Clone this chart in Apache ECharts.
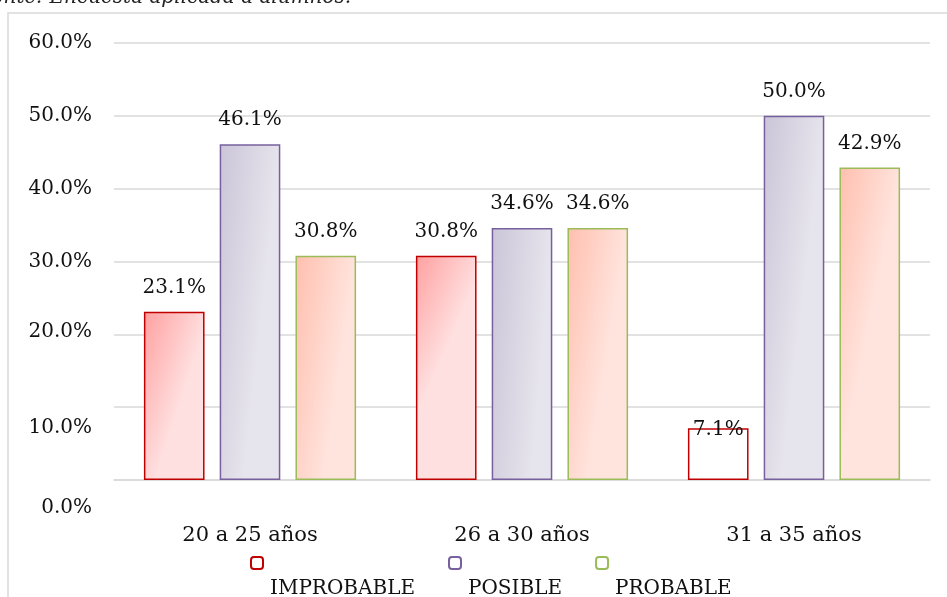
<!DOCTYPE html>
<html>
<head>
<meta charset="utf-8">
<script src="https://cdn.jsdelivr.net/npm/echarts@6/dist/echarts.min.js"></script>
<style>
	html, body { margin: 0; padding: 0; background: #fff; }
	#main { width: 947px; height: 597px; }
</style>
</head>
<body>
<div id="main"></div>
<script>
var categories = ['20 a 25 años', '26 a 30 años', '31 a 35 años'];
var improbable = [23.1, 30.8, 7.1];
var posible = [46.1, 34.6, 50.0];
var probable = [30.8, 34.6, 42.9];
var yTicks = [0, 10, 20, 30, 40, 50, 60];

var serif = 'DejaVu Serif';

// degradado casi horizontal, mas oscuro a la izquierda
function grad(c1, c2, dy) {
	return new echarts.graphic.LinearGradient(0, 0, 1, dy, [
		{ offset: 0, color: c1 },
		{ offset: 1, color: c2 }
	]);
}

function labelCfg() {
	return {
		show: true,
		position: 'top',
		distance: 14,
		fontFamily: serif,
		fontSize: 20,
		color: '#111',
		formatter: function(p) { return p.value.toFixed(1) + '%'; }
	};
}

// el ultimo valor de IMPROBABLE va sin relleno y con la etiqueta encima del borde
var improbableData = improbable.map(function(v, i) {
	if(i === 2) {
		return {
			value: v,
			itemStyle: { color: '#fff' },
			label: { distance: -12 }
		};
	}
	return v;
});

var series = [{
	name: 'IMPROBABLE',
	data: improbableData,
	color: grad('#ffa0a0', '#ffe0e0', 0.12),
	borderColor: '#c00000'
}, {
	name: 'POSIBLE',
	data: posible,
	color: grad('#cbc5d8', '#e6e4ec', 0.02),
	borderColor: '#76619e'
}, {
	name: 'PROBABLE',
	data: probable,
	color: grad('#ffbfae', '#ffe4de', 0.04),
	borderColor: '#9bbb59'
}].map(function(s) {
	return {
		type: 'bar',
		name: s.name,
		data: s.data,
		barGap: '25%',
		barCategoryGap: '22%',
		itemStyle: {
			color: s.color,
			borderColor: s.borderColor,
			borderWidth: 1.5
		},
		label: labelCfg()
	};
});

var chart = echarts.init(document.getElementById('main'));
chart.setOption({
	animation: false,
	backgroundColor: '#fff',
	title: {
		text: 'Fuente: Encuesta aplicada a alumnos.',
		left: -40,
		top: -17,
		textStyle: {
			fontFamily: serif,
			fontStyle: 'italic',
			fontWeight: 'normal',
			fontSize: 20,
			color: '#222'
		}
	},
	graphic: [{
		type: 'rect',
		shape: { x: 8, y: 13, width: 1000, height: 1000 },
		style: { fill: 'none', stroke: '#d9d9d9', lineWidth: 1.5 },
		silent: true
	}],
	grid: {
		left: 114,
		right: 17,
		top: 43,
		bottom: 117
	},
	legend: {
		left: 245,
		top: 551,
		itemGap: 33,
		itemWidth: 12,
		itemHeight: 12,
		data: [
			{ name: 'IMPROBABLE', itemStyle: { color: '#fff', borderColor: '#c00000', borderWidth: 2 } },
			{ name: 'POSIBLE', itemStyle: { color: '#fff', borderColor: '#76619e', borderWidth: 2 } },
			{ name: 'PROBABLE', itemStyle: { color: '#fff', borderColor: '#9bbb59', borderWidth: 2 } }
		],
		formatter: function(name) { return '{t|' + name + '}'; },
		textStyle: {
			rich: {
				t: {
					fontFamily: serif,
					fontSize: 20,
					color: '#111',
					padding: [52, 0, 0, 2]
				}
			}
		}
	},
	xAxis: {
		type: 'category',
		data: categories,
		axisLine: { lineStyle: { color: '#d9d9d9', width: 1.5 } },
		axisTick: { show: false },
		axisLabel: {
			margin: 45,
			fontFamily: serif,
			fontSize: 21,
			color: '#111'
		}
	},
	yAxis: {
		type: 'value',
		min: yTicks[0],
		max: yTicks[yTicks.length - 1],
		interval: 10,
		axisLine: { show: false },
		axisTick: { show: false },
		splitLine: { lineStyle: { color: '#d9d9d9', width: 1.5 } },
		axisLabel: {
			margin: 22,
			formatter: function(v) {
				var t = v.toFixed(1) + '%';
				if(v === 0) return '{a|' + t + '}';
				if(v === 10) return '{b|' + t + '}';
				if(v === 20) return '{c|' + t + '}';
				return '{n|' + t + '}';
			},
			rich: {
				a: { fontFamily: serif, fontSize: 20, color: '#111', padding: [56, 0, 0, 0] },
				b: { fontFamily: serif, fontSize: 20, color: '#111', padding: [42, 0, 0, 0] },
				c: { fontFamily: serif, fontSize: 20, color: '#111', padding: [0, 0, 6, 0] },
				n: { fontFamily: serif, fontSize: 20, color: '#111' }
			}
		}
	},
	series: series
});
</script>
</body>
</html>
